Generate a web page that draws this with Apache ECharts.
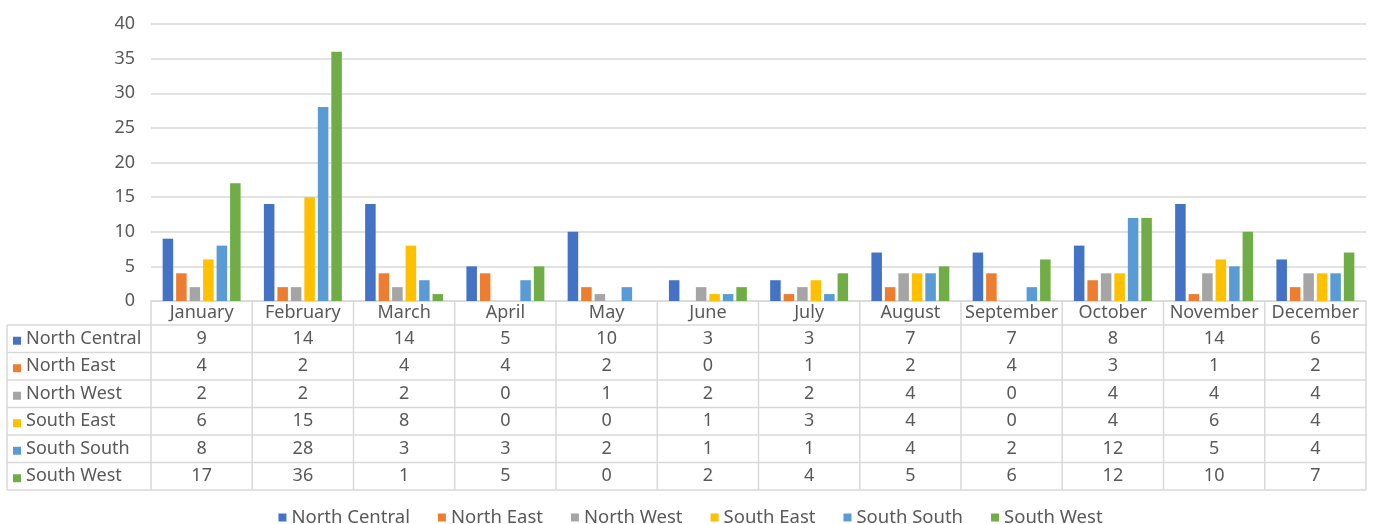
<!DOCTYPE html>
<html><head><meta charset="utf-8">
<script src="https://cdn.jsdelivr.net/npm/echarts@6/dist/echarts.min.js"></script>
<style>html,body{margin:0;padding:0;background:#fff}#c{width:1381px;height:524px}</style>
</head><body><div id="c"></div>
<script>
const months = ["January","February","March","April","May","June","July","August","September","October","November","December"];
const seriesNames = ["North Central","North East","North West","South East","South South","South West"];
const northCentral = [9,14,14,5,10,3,3,7,7,8,14,6];
const northEast    = [4,2,4,4,2,0,1,2,4,3,1,2];
const northWest    = [2,2,2,0,1,2,2,4,0,4,4,4];
const southEast    = [6,15,8,0,0,1,3,4,0,4,6,4];
const southSouth   = [8,28,3,3,2,1,1,4,2,12,5,4];
const southWest    = [17,36,1,5,0,2,4,5,6,12,10,7];
const yTicks = [0,5,10,15,20,25,30,35,40];
const colors = ["#4472C4","#ED7D31","#A5A5A5","#FFC000","#5B9BD5","#70AD47"];

const allData = [northCentral,northEast,northWest,southEast,southSouth,southWest];
const FONT = "Noto Sans";
const TXT = "#595959";
const LINE = "#D9D9D9";
const gL = 151, gR = 1366, gT = 24, gB = 301;
const tableLeft = 7, headerBottom = 325, rowH = 27.5;
const colW = (gR - gL) / months.length;
const FS = 18;

const chart = echarts.init(document.getElementById('c'), null, {renderer:'canvas'});

const graphics = [];
for (let r = 0; r <= allData.length; r++) {
  const y = headerBottom + r * rowH;
  graphics.push({type:'line', shape:{x1:tableLeft,y1:y,x2:gR,y2:y}, style:{stroke:LINE,lineWidth:1.5}, silent:true});
}
for (let c = 0; c <= months.length; c++) {
  const x = gL + c * colW;
  graphics.push({type:'line', shape:{x1:x,y1:gB,x2:x,y2:headerBottom + allData.length*rowH}, style:{stroke:LINE,lineWidth:1.5}, silent:true});
}
graphics.push({type:'line', shape:{x1:tableLeft,y1:headerBottom,x2:tableLeft,y2:headerBottom + allData.length*rowH}, style:{stroke:LINE,lineWidth:1.5}, silent:true});
months.forEach((m,i)=>{
  graphics.push({type:'text', x: gL + (i+0.5)*colW, y: (gB+headerBottom)/2, style:{text:m, font:FS+'px "'+FONT+'"', fill:TXT, align:'center', verticalAlign:'middle'}, silent:true});
});
allData.forEach((arr,r)=>{
  const yc = headerBottom + (r+0.5)*rowH;
  graphics.push({type:'rect', shape:{x:13, y:yc-2, width:8, height:8}, style:{fill:colors[r]}, silent:true});
  graphics.push({type:'text', x:26, y:yc, style:{text:seriesNames[r], font:FS+'px "'+FONT+'"', fill:TXT, align:'left', verticalAlign:'middle'}, silent:true});
  arr.forEach((v,i)=>{
    graphics.push({type:'text', x: gL + (i+0.5)*colW, y: yc, style:{text:String(v), font:FS+'px "'+FONT+'"', fill:TXT, align:'center', verticalAlign:'middle'}, silent:true});
  });
});

chart.setOption({
  animation:false,
  color: colors,
  textStyle:{fontFamily:FONT},
  grid:{left:gL, right:1381-gR, top:gT, bottom:524-gB, containLabel:false},
  legend:{
    top:503, left:'center', itemWidth:8, itemHeight:8, itemGap:28, icon:'rect',
    textStyle:{color:TXT, fontSize:18.5, fontFamily:FONT},
    data: seriesNames
  },
  xAxis:{
    type:'category', data:months,
    axisLine:{show:true, lineStyle:{color:LINE, width:1.5}},
    axisTick:{show:false}, axisLabel:{show:false}, splitLine:{show:false}
  },
  yAxis:{
    type:'value', min:yTicks[0], max:yTicks[yTicks.length-1], interval:5,
    axisLine:{show:false}, axisTick:{show:false},
    axisLabel:{color:TXT, fontSize:18, fontFamily:FONT, margin:16},
    splitLine:{lineStyle:{color:LINE, width:1.5}}
  },
  series: allData.map((d,i)=>({
    name: seriesNames[i], type:'bar', data:d,
    barGap:'28%', barCategoryGap:'23%'
  })),
  graphic: graphics
});
</script></body></html>
